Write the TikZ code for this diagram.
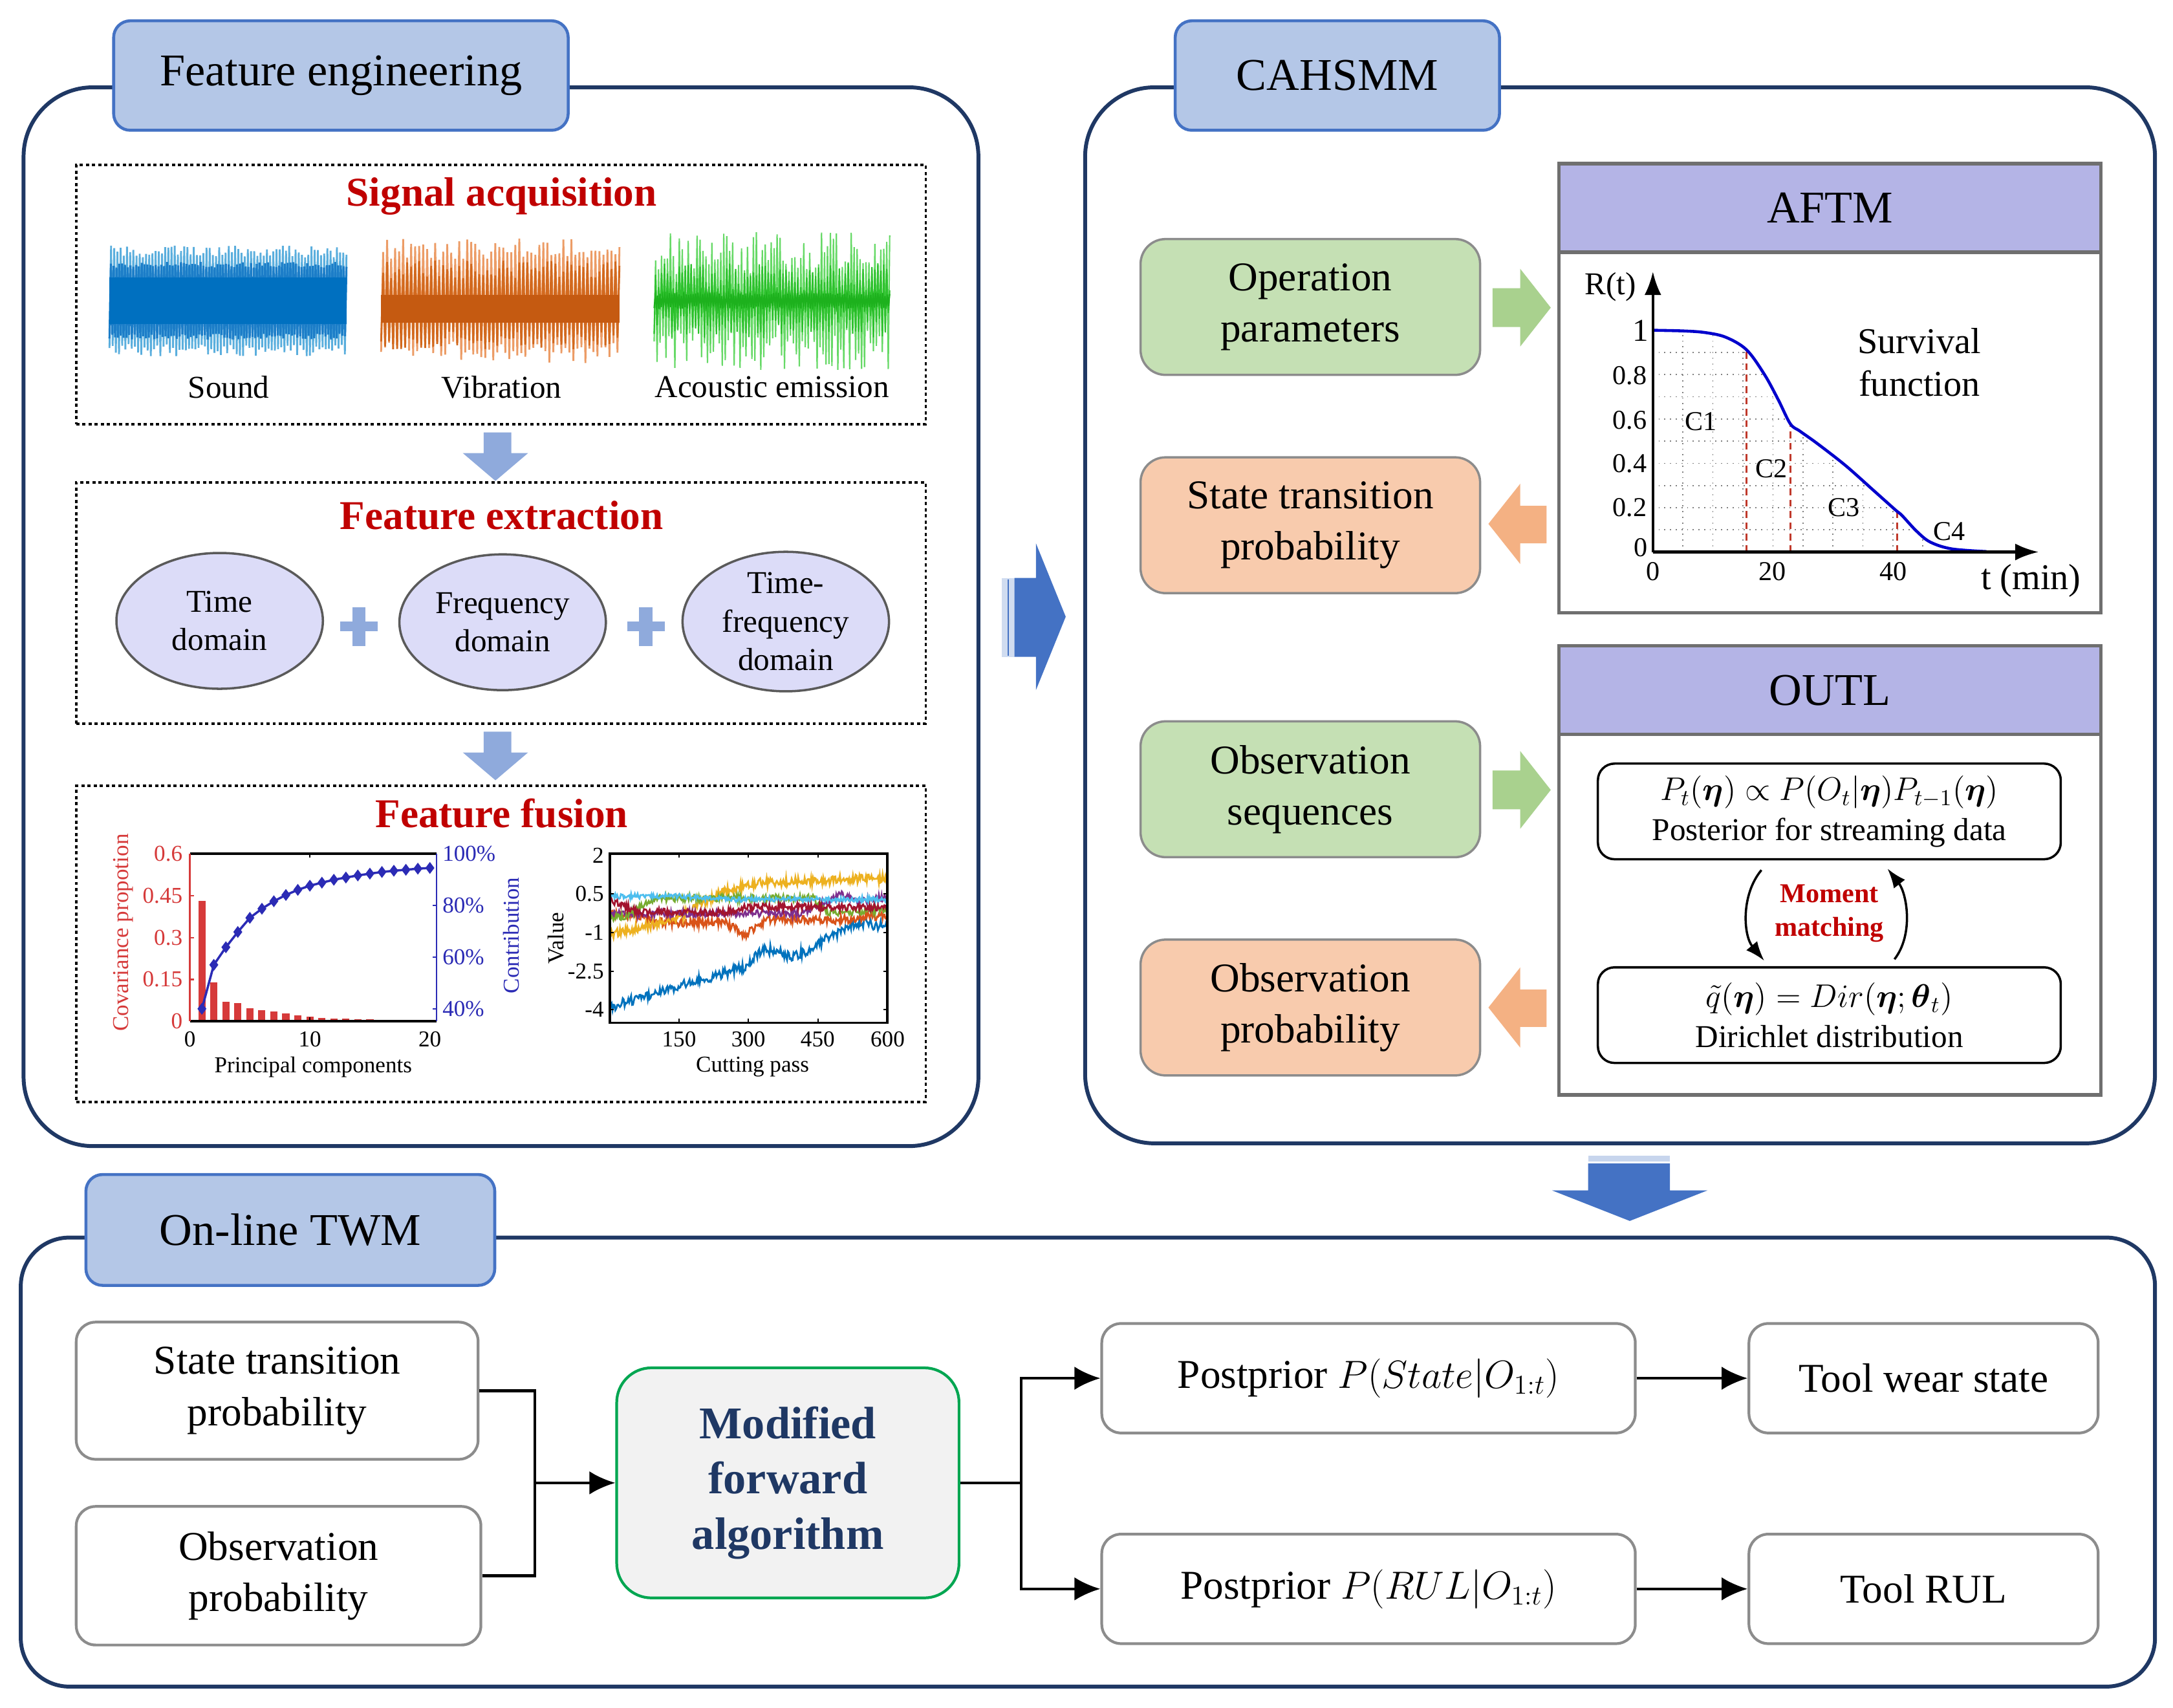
\documentclass[tikz,border=0pt]{standalone}
\usepackage{fontspec}
\setmainfont{Liberation Serif}
\usepackage{amsmath}
\usetikzlibrary{arrows.meta,shapes.geometric,plotmarks,calc}
\newcommand\pxu{0.2143mm}
\definecolor{navy}{HTML}{1F3864}
\definecolor{tabfill}{HTML}{B4C7E7}
\definecolor{tabdraw}{HTML}{4472C4}
\definecolor{darkred}{HTML}{C00000}
\definecolor{gfill}{HTML}{C5E0B4}
\definecolor{ofill}{HTML}{F8CBAD}
\definecolor{garrow}{HTML}{A9D18E}
\definecolor{oarrow}{HTML}{F4B183}
\definecolor{lav}{HTML}{B4B4E6}
\definecolor{hdrgray}{HTML}{6F6F6F}
\definecolor{ellfill}{HTML}{DCDCF8}
\definecolor{ellgray}{HTML}{5A5A5A}
\definecolor{lblue}{HTML}{8FAADC}
\definecolor{bigblue}{HTML}{4472C4}
\definecolor{boxgray}{HTML}{8C8C8C}
\definecolor{mfagreen}{HTML}{00A651}
\definecolor{mfafill}{HTML}{F2F2F2}
\definecolor{mfatext}{HTML}{1F3864}
\definecolor{sndl}{HTML}{5AAEDD}
\definecolor{sndm}{HTML}{1C7DC8}
\definecolor{sndd}{HTML}{0070C0}
\definecolor{vibl}{HTML}{EC9C66}
\definecolor{vibm}{HTML}{D2691E}
\definecolor{vibd}{HTML}{C55A11}
\definecolor{ael}{HTML}{66D966}
\definecolor{aem}{HTML}{2EC22E}
\definecolor{aed}{HTML}{1DB11D}
\definecolor{barred}{HTML}{D63A3A}
\definecolor{cumblue}{HTML}{2B2BB5}
\definecolor{mblue}{HTML}{0072BD}
\definecolor{morange}{HTML}{D95319}
\definecolor{myellow}{HTML}{EDB120}
\definecolor{mpurple}{HTML}{7E2F8E}
\definecolor{mgreen}{HTML}{77AC30}
\definecolor{mcyan}{HTML}{4DBEEE}
\definecolor{mdred}{HTML}{A2142F}
\definecolor{survblue}{HTML}{0000CC}
\definecolor{dashred}{HTML}{C0392B}
\newcommand\wave[7]{\pgfmathsetmacro\wstep{(#3-#2)/(#6-1)}%
\draw[#1,line width=#7] plot[domain=#2:#3,samples=#6] (\x,{#4+(#5)*cos(180*mod(round((\x-#2)/\wstep),2))});}
\begin{document}
\begin{tikzpicture}[x=0.2143mm,y=-0.2143mm,
 declare function={rp(\p,\m,\n)=max(0,min(1,(\p-\m)/(\n-\m)));},
 panel/.style={draw=navy,line width=1.7pt,fill=white,inner sep=0pt},
 tabbox/.style={draw=tabdraw,fill=tabfill,line width=1.3pt,rounded corners=12*\pxu,inner sep=0pt,font=\fontsize{20}{24}\selectfont},
 dbox/.style={draw=black,line width=1.1pt,dash pattern=on 1.4pt off 1.3pt,inner sep=0pt,minimum width=613*\pxu},
 rtitle/.style={text=darkred,font=\bfseries\fontsize{18}{21}\selectfont,inner sep=0pt},
 lbl/.style={inner sep=0pt,font=\fontsize{14}{17}\selectfont},
 ell/.style={ellipse,draw=ellgray,fill=ellfill,line width=1pt,minimum width=149*\pxu,minimum height=98*\pxu,inner sep=0pt,align=center,font=\fontsize{14}{17}\selectfont},
 smalllbl/.style={inner sep=0pt,font=\fontsize{10}{12}\selectfont},
 ticklbl/.style={inner sep=0pt,font=\fontsize{12}{14}\selectfont},
 cbox/.style={draw=boxgray,line width=1pt,rounded corners=18*\pxu,minimum width=245*\pxu,minimum height=98*\pxu,inner sep=0pt,align=center,font=\fontsize{18}{22.5}\selectfont},
 hdr/.style={draw=hdrgray,fill=lav,line width=1.5pt,minimum width=391*\pxu,minimum height=64*\pxu,inner sep=0pt,font=\fontsize{20}{24}\selectfont},
 hbody/.style={draw=hdrgray,fill=white,line width=1.5pt,minimum width=391*\pxu,minimum height=324*\pxu,inner sep=0pt},
 ibox/.style={draw=black,line width=1pt,rounded corners=12*\pxu,minimum width=334*\pxu,minimum height=69*\pxu,inner sep=0pt,align=center,font=\fontsize{14}{17.5}\selectfont},
 bbox/.style={draw=boxgray,line width=1.2pt,rounded corners=14*\pxu,fill=white,inner sep=0pt,align=center,font=\fontsize{18}{22.5}\selectfont},
 conn/.style={line width=1.2pt,draw=black},
 arr/.style={conn,-{Latex[length=4mm,width=3.6mm]}},
 mmarr/.style={line width=1pt,-{Latex[length=3mm,width=2.2mm]}},
 axarr/.style={line width=1.2pt,-{Latex[length=3.6mm,width=2.6mm]}},
 gridl/.style={gray,line width=0.5pt,dotted},
 reddash/.style={dashred,line width=1pt,dash pattern=on 3pt off 2pt},
 survc/.style={survblue,line width=1.3pt},
 mline/.style={line width=0.8pt},
]
\pgfmathsetseed{42}
\fill[white] (0,0) rectangle (1568,1232);
\useasboundingbox (0,0) rectangle (1568,1232);

% ---------- panels ----------
\node[panel,rounded corners=50*\pxu,minimum width=689*\pxu,minimum height=764*\pxu] (fe) at (361.5,445) {};
\node[panel,rounded corners=50*\pxu,minimum width=772*\pxu,minimum height=762*\pxu] (ca) at (1169,444) {};
\node[panel,rounded corners=35*\pxu,minimum width=1540*\pxu,minimum height=324*\pxu] (twm) at (785,1055) {};
\node[tabbox,minimum width=328*\pxu,minimum height=79*\pxu] (fetab) at (246,54.5) {Feature engineering};
\node[tabbox,minimum width=234*\pxu,minimum height=79*\pxu] (catab) at (965,54.5) {CAHSMM};
\node[tabbox,minimum width=295*\pxu,minimum height=80*\pxu] (twtab) at (209.5,887.5) {On-line TWM};

% ---------- feature engineering ----------
\node[dbox,minimum height=187*\pxu] (sa) at (361.5,212.5) {};
\node[dbox,minimum height=174*\pxu] (fx) at (361.5,435) {};
\node[dbox,minimum height=228*\pxu] (ff) at (361.5,681) {};
\node[rtitle] (satitle) at (362,141.5) {Signal acquisition};
\node[rtitle] (fxtitle) at (362,372) {Feature extraction};
\node[rtitle] (fftitle) at (362,587) {Feature fusion};

% waveforms
\wave{sndl}{79}{250}{217}{40*(0.78+0.22*rnd)}{150}{0.8pt}
\wave{sndm}{79}{250}{217}{28*(0.85+0.15*rnd)}{170}{0.9pt}
\fill[sndd] (79,200) rectangle (250,234);
\wave{vibl}{275}{447}{217}{45*(0.65+0.35*rnd)}{120}{0.8pt}
\wave{vibm}{275}{447}{220}{32*(0.6+0.4*rnd)}{120}{0.8pt}
\fill[vibd] (275,213) rectangle (447,233);
\wave{ael}{472}{642}{217}{50*(0.35+0.65*rnd)}{160}{0.6pt}
\wave{aem}{472}{642}{217}{30*(0.2+0.7*rnd)}{160}{0.6pt}
\wave{aed}{472}{642}{217}{6*(0.5+0.5*rnd)}{200}{0.6pt}
\node[lbl] (snd) at (165,279.5) {Sound};
\node[lbl] (vib) at (362,279.5) {Vibration};
\node[lbl] (ae) at (557,279.5) {Acoustic emission};

% light blue down arrows
\fill[lblue] (349,312) -- (369,312) -- (369,327) -- (381,327) -- (357.5,347) -- (334,327) -- (349,327) -- cycle;
\fill[lblue] (349,528) -- (369,528) -- (369,543) -- (381,543) -- (357.5,563) -- (334,543) -- (349,543) -- cycle;

% feature extraction
\node[ell] (td) at (158.5,448) {Time\\domain};
\node[ell] (fd) at (362.7,449) {Frequency\\domain};
\node[ell] (tfd) at (567,448.5) {Time-\\frequency\\domain};
\foreach \cx in {259,466} {
  \fill[lblue] (\cx-4.8,438) rectangle (\cx+4.8,466);
  \fill[lblue] (\cx-13.5,448.5) rectangle (\cx+13.5,455.5);
}

% feature fusion plot 1
\begin{scope}[shift={(137,737)},xscale=8.66,yscale=-201.7]
 \foreach \k/\h in {1/0.432,2/0.139,3/0.069,4/0.065,5/0.046,6/0.041,7/0.035,8/0.028,9/0.022,10/0.017,11/0.013,12/0.011,13/0.009,14/0.008,15/0.007,16/0.006,17/0.005,18/0.004,19/0.004,20/0.003}
   \fill[barred] (\k-0.3,0) rectangle (\k+0.3,\h);
\end{scope}
\draw[cumblue,line width=1pt] plot[mark=diamond*,mark size=1.8pt,mark options={fill=cumblue,draw=cumblue}] coordinates {(145.7,727.9) (154.3,696.2) (163,683.5) (171.6,672.5) (180.3,662.3) (189,655.7) (197.6,650.3) (206.3,645.8) (214.9,642.1) (223.6,639.1) (232.3,636.9) (240.9,634.8) (249.6,633.2) (258.2,631.7) (266.9,630.4) (275.6,629.2) (284.2,628.3) (292.9,627.6) (301.5,626.8) (310.2,626.3)};
\draw[black,line width=1.2pt] (137,616) -- (315,616);
\draw[black,line width=1.2pt] (137,737) -- (315,737);
\draw[barred,line width=0.8pt] (137,616) -- (137,737);
\draw[cumblue,line width=0.8pt] (315,616) -- (315,737);
\foreach \yy in {646.25,676.5,706.75} \draw[barred,line width=0.6pt] (137,\yy) -- (140,\yy);
\foreach \yy in {653.3,690.6,727.9} \draw[cumblue,line width=0.6pt] (315,\yy) -- (312,\yy);
\draw[line width=0.6pt] (223.6,616) -- (223.6,619) (223.6,737) -- (223.6,734);
\foreach \v/\yy [count=\i] in {0/737,0.15/706.75,0.3/676.5,0.45/646.25,0.6/616}
  \node[smalllbl,text=barred,anchor=east] (cl\i) at (132,\yy) {\v};
\foreach \v/\yy [count=\i] in {40/727.9,60/690.6,80/653.3,100/616}
  \node[smalllbl,text=cumblue,anchor=west] (cr\i) at (319,\yy) {\v\%};
\foreach \v/\xx [count=\i] in {0/137,10/223.6,20/310.2}
  \node[smalllbl] (cx\i) at (\xx,750) {\v};
\node[smalllbl] (pcl) at (226,770) {Principal components};
\node[smalllbl,text=barred,rotate=90] (covl) at (89,673) {Covariance propotion};
\node[smalllbl,text=cumblue,rotate=90] (conl) at (369,675) {Contribution};

% feature fusion plot 2
\begin{scope}[shift={(440,654.5)},xscale=0.3337,yscale=-18.5]
 \clip (0,-4.55) rectangle (600,2.1);
 \draw[mline,mblue] plot[domain=0:600,samples=300] (\x,{-3.9+1.6*rp(\x,0,300)+0.7*rp(\x,300,330)-0.35*rp(\x,330,400)+1.35*rp(\x,400,530)-0.15*rp(\x,530,600)+0.2*rand});
 \draw[mline,morange] plot[domain=0:600,samples=300] (\x,{-0.3-0.3*rp(\x,50,100)-0.5*rp(\x,250,290)+0.6*rp(\x,290,340)+0.15*rp(\x,500,560)+0.17*rand});
 \draw[mline,myellow] plot[domain=0:600,samples=300] (\x,{-1.1+0.7*rp(\x,0,150)+1.0*rp(\x,150,245)+0.35*rp(\x,245,320)+0.17*rp(\x,320,600)+0.18*rand});
 \draw[mline,mpurple] plot[domain=0:600,samples=300] (\x,{-0.25+0.75*rp(\x,420,500)-0.3*rp(\x,500,540)+0.2*rp(\x,540,600)+0.14*rand});
 \draw[mline,mgreen] plot[domain=0:600,samples=300] (\x,{-0.4+0.75*rp(\x,30,100)-0.55*rp(\x,440,470)+0.1*rp(\x,520,600)+0.14*rand});
 \draw[mline,mcyan] plot[domain=0:600,samples=300] (\x,{0.42-0.12*rp(\x,150,250)+0.1*rand});
 \draw[mline,mdred] plot[domain=0:600,samples=300] (\x,{0.3-0.5*rp(\x,0,60)+0.2*rp(\x,250,300)+0.14*rand});
\end{scope}
\draw[line width=1pt] (440,616) rectangle (640.3,738);
\foreach \xx in {490.05,540.1,590.15} \draw[line width=0.6pt] (\xx,616) -- (\xx,619) (\xx,738) -- (\xx,735);
\foreach \yy in {645,673,700.75,728.5} \draw[line width=0.6pt] (440,\yy) -- (443,\yy) (640.3,\yy) -- (637.3,\yy);
\foreach \v/\yy [count=\i] in {2/617.5,0.5/645,-1/673,-2.5/700.75,-4/728.5}
  \node[smalllbl,anchor=east] (vl\i) at (436,\yy) {\v};
\foreach \v/\xx [count=\i] in {150/490,300/540,450/590,600/640.5}
  \node[smalllbl] (vx\i) at (\xx,750) {\v};
\node[smalllbl] (cpl) at (543,770) {Cutting pass};
\node[smalllbl,rotate=90] (vall) at (401,677) {Value};

% big right arrow
\fill[bigblue!25] (723,417) rectangle (732,474);
\draw[bigblue,line width=0.8pt] (727.5,418) -- (727.5,473);
\fill[bigblue] (732,417) -- (747.5,417) -- (747.5,392) -- (769,445) -- (747.5,498) -- (747.5,474) -- (732,474) -- cycle;

% ---------- CAHSMM ----------
\node[cbox,fill=gfill] (op) at (945.5,221.5) {Operation\\parameters};
\node[cbox,fill=ofill] (stp) at (945.5,379) {State transition\\probability};
\node[cbox,fill=gfill] (obs) at (945.5,569.5) {Observation\\sequences};
\node[cbox,fill=ofill] (obp) at (945.5,727) {Observation\\probability};
\foreach \dy in {0,348} {
  \fill[garrow] (1077,208+\dy) -- (1097,208+\dy) -- (1097,194+\dy) -- (1119,222+\dy) -- (1097,250+\dy) -- (1097,236+\dy) -- (1077,236+\dy) -- cycle;
}
\foreach \dy in {0,349} {
  \fill[oarrow] (1116,365+\dy) -- (1097,365+\dy) -- (1097,349+\dy) -- (1074,378+\dy) -- (1097,407+\dy) -- (1097,392+\dy) -- (1116,392+\dy) -- cycle;
}

% AFTM
\node[hbody] (aftm) at (1320.5,280) {};
\node[hdr] (aftmh) at (1320.5,150) {AFTM};
\begin{scope}[shift={(1192.7,398.3)},xscale=4.33,yscale=-160]
 \begin{scope}
  \clip (0,0) -- plot[smooth,tension=0.55] coordinates {(0,1) (5,0.997) (8.6,0.99) (12.1,0.969) (15.6,0.912) (18.6,0.80) (20.9,0.686) (22.9,0.578) (24.5,0.545) (27.4,0.489) (32.1,0.39) (36.8,0.277) (40.4,0.19) (41.5,0.165) (43.9,0.095) (46.2,0.045) (49.8,0.014) (55.6,0.002)} -- cycle;
  \foreach \t in {5,10,...,50} \draw[gridl] (\t,0) -- (\t,1);
  \foreach \r in {0.1,0.2,0.3,0.4,0.5,0.6,0.7,0.8,0.9} \draw[gridl] (0,\r) -- (56,\r);
 \end{scope}
 \draw[reddash] (15.6,0) -- (15.6,0.912);
 \draw[reddash] (22.9,0) -- (22.9,0.578);
 \draw[reddash] (40.7,0) -- (40.7,0.183);
 \draw[survc] plot[smooth,tension=0.55] coordinates {(0,1) (5,0.997) (8.6,0.99) (12.1,0.969) (15.6,0.912) (18.6,0.80) (20.9,0.686) (22.9,0.578) (24.5,0.545) (27.4,0.489) (32.1,0.39) (36.8,0.277) (40.4,0.19) (41.5,0.165) (43.9,0.095) (46.2,0.045) (49.8,0.014) (55.6,0.002)};
\end{scope}
\coordinate (org) at (1192.7,398.3);
\coordinate (ytip) at (1192.7,196);
\coordinate (xtip) at (1471,398.3);
\draw[axarr] (org) -- (ytip);
\draw[axarr] (org) -- (xtip);
\node[lbl] (rtl) at (1162,207) {R(t)};
\node[lbl,anchor=east] (y1) at (1190,238.5) {1};
\foreach \v/\yy [count=\i] in {0.8/271,0.6/303,0.4/334.5,0.2/366.2}
  \node[ticklbl,anchor=east] (ry\i) at (1188.5,\yy) {\v};
\node[ticklbl,anchor=east] (ry0) at (1189,395) {0};
\foreach \v/\xx [count=\i] in {0/1193,20/1279,40/1366}
  \node[ticklbl] (rx\i) at (\xx,412.5) {\v};
\node[ticklbl] (c1) at (1227.3,304) {C1};
\node[ticklbl] (c2) at (1278.4,338) {C2};
\node[ticklbl] (c3) at (1330.4,366.3) {C3};
\node[ticklbl] (c4) at (1406.6,383.3) {C4};
\node[inner sep=0pt,align=center,font=\fontsize{16}{18.8}\selectfont] (survl) at (1385,261.5) {Survival\\function};
\node[inner sep=0pt,font=\fontsize{16}{19}\selectfont] (tmin) at (1465.5,419) {t (min)};

% OUTL
\node[hbody] (outl) at (1320.5,628) {};
\node[hdr] (outlh) at (1320.5,498) {OUTL};
\node[ibox] (post) at (1320,585.5) {$P_t(\boldsymbol{\eta})\propto P(O_t|\boldsymbol{\eta})P_{t-1}(\boldsymbol{\eta})$\\Posterior for streaming data};
\node[ibox] (dir) at (1320,732.5) {$\tilde{q}(\boldsymbol{\eta})=Dir(\boldsymbol{\eta};\boldsymbol{\theta}_t)$\\Dirichlet distribution};
\node[text=darkred,font=\bfseries\fontsize{12}{14.7}\selectfont,align=center,inner sep=0pt] (mm) at (1320,659) {Moment\\matching};
\draw[mmarr] ($(post.south)+(-49,7)$) .. controls +(-15,18) and +(-15,-18) .. ($(dir.north)+(-47,-4)$);
\draw[mmarr] ($(dir.north)+(47,-5)$) .. controls +(14,-18) and +(14,18) .. ($(post.south)+(42,6)$);

% down arrow to TWM
\fill[bigblue!30] (1146,834) rectangle (1205,838);
\fill[bigblue] (1146,839.5) -- (1205,839.5) -- (1205,859) -- (1232,859) -- (1176,881) -- (1120,859) -- (1146,859) -- cycle;

% ---------- On-line TWM ----------
\node[bbox,minimum width=290*\pxu,minimum height=99*\pxu] (st) at (200,1003.5) {State transition\\probability};
\node[bbox,minimum width=292*\pxu,minimum height=100*\pxu] (ob) at (201,1137) {Observation\\probability};
\node[bbox,draw=mfagreen,fill=mfafill,rounded corners=25*\pxu,minimum width=247*\pxu,minimum height=166*\pxu,text=mfatext,font=\bfseries\fontsize{20}{24.3}\selectfont] (mfa) at (568.5,1070) {Modified\\forward\\algorithm};
\node[bbox,minimum width=385*\pxu,minimum height=79*\pxu] (ps) at (987.5,994.5) {Postprior $P(State|O_{1:t})$};
\node[bbox,minimum width=385*\pxu,minimum height=79*\pxu] (pr) at (987.5,1146.5) {Postprior $P(RUL|O_{1:t})$};
\node[bbox,minimum width=252*\pxu,minimum height=79*\pxu] (tws) at (1388,994.5) {Tool wear state};
\node[bbox,minimum width=252*\pxu,minimum height=79*\pxu] (trul) at (1388,1146.5) {Tool RUL};
\coordinate (j1) at (386,1070);
\coordinate (j2) at (737,1070);
\draw[conn] (st.east) -| (j1);
\draw[conn] (ob.east) -| (j1);
\draw[arr] (j1) -- (mfa.west);
\draw[conn] (mfa.east) -- (j2);
\draw[arr] (j2) |- (ps.west);
\draw[arr] (j2) |- (pr.west);
\draw[arr] (ps.east) -- (tws.west);
\draw[arr] (pr.east) -- (trul.west);
\end{tikzpicture}
\end{document}
